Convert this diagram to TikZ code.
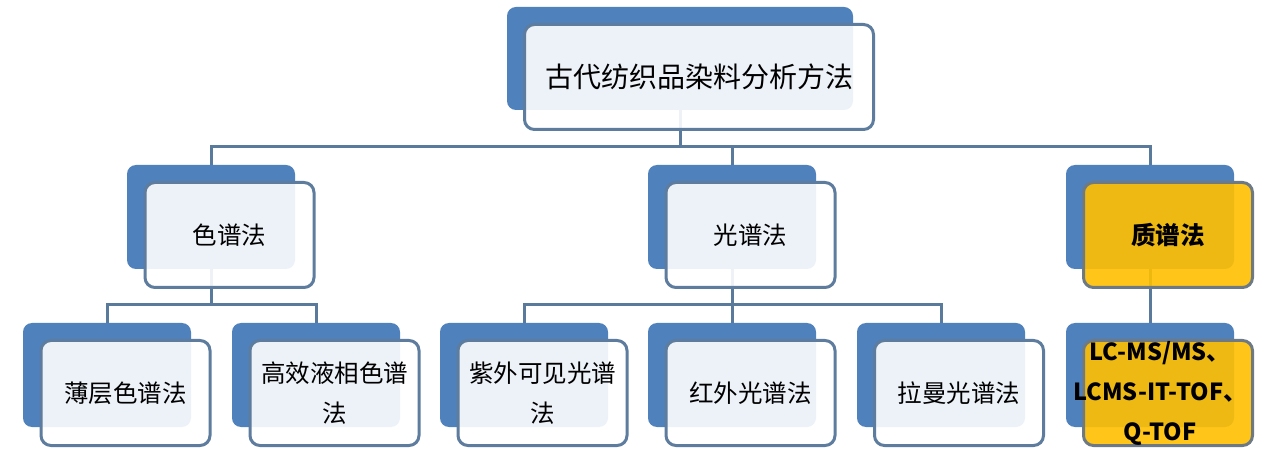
\documentclass[tikz,border=0pt]{standalone}
\usepackage{fontspec}
\setmainfont{Noto Sans CJK SC}
\definecolor{backblue}{HTML}{4F81BD}
\definecolor{bordblue}{HTML}{5D7C9E}
\definecolor{connblue}{HTML}{5A7A9C}
\definecolor{gold}{HTML}{FFC000}
\definecolor{goldbord}{HTML}{6D7A85}
\tikzset{
  backbox/.style={fill=backblue, rounded corners=9pt, minimum width=168pt, minimum height=104pt, inner sep=0pt, outer sep=0pt},
  frontbox/.style={draw=bordblue, line width=3pt, fill=white, fill opacity=0.9, text opacity=1, rounded corners=10pt, minimum width=169pt, minimum height=105pt, inner sep=0pt, outer sep=0pt, align=center, font=\fontsize{24.5pt}{40pt}\selectfont},
  goldbox/.style={frontbox, draw=goldbord, fill=gold},
  conn/.style={draw=connblue, line width=3pt},
  lbl/.style={align=center, font=\fontsize{23.5pt}{40pt}\selectfont\bfseries, inner sep=0pt}
}
\begin{document}
\begin{tikzpicture}[x=1pt,y=-1pt]
\useasboundingbox[fill=white] (0,0) rectangle (1280,454);
\coordinate (bus1) at (0,147);
\coordinate (bus2) at (0,305);
% back box centers
\path (680,58.5) coordinate (pT)
      (211,217) coordinate (pA) (732,217) coordinate (pB) (1150,217) coordinate (pC)
      (107,375) coordinate (pA1) (316,375) coordinate (pA2)
      (524,375) coordinate (pB1) (732,375) coordinate (pB2) (941,375) coordinate (pB3)
      (1150,375) coordinate (pC1);
% connectors
\draw[conn] (pT) -- (pT |- bus1);
\draw[conn] (pA) |- (pT |- bus1);
\draw[conn] (pB) -- (pB |- bus1);
\draw[conn] (pC) |- (pT |- bus1);
\draw[conn] (pA1) |- (pA |- bus2);
\draw[conn] (pA2) |- (pA |- bus2);
\draw[conn] (pA) -- (pA |- bus2);
\draw[conn] (pB1) |- (pB |- bus2);
\draw[conn] (pB3) |- (pB |- bus2);
\draw[conn] (pB) -- (pB2);
\draw[conn] (pC) -- (pC1);
% back boxes
\node[backbox, minimum width=346pt, minimum height=103pt] (tB) at (pT) {};
\node[backbox] (aB) at (pA) {};
\node[backbox] (bB) at (pB) {};
\node[backbox] (cB) at (pC) {};
\node[backbox] (a1B) at (pA1) {};
\node[backbox] (a2B) at (pA2) {};
\node[backbox] (b1B) at (pB1) {};
\node[backbox] (b2B) at (pB2) {};
\node[backbox] (b3B) at (pB3) {};
\node[backbox] (c1B) at (pC1) {};
% front boxes
\node[frontbox, minimum width=349pt, font=\fontsize{28pt}{40pt}\selectfont] (tF) at (699,77) {\raisebox{-2pt}{古代纺织品染料分析方法}};
\node[frontbox] (aF) at (229.5,235) {色谱法};
\node[frontbox] (bF) at (750.5,235) {光谱法};
\node[goldbox, font=\fontsize{24.5pt}{40pt}\selectfont\bfseries] (cF) at (1168,235) {质谱法};
\node[frontbox] (a1F) at (125.5,393) {薄层色谱法};
\node[frontbox] (a2F) at (334.5,393) {高效液相色谱\\法};
\node[frontbox] (b1F) at (542.5,393) {紫外可见光谱\\法};
\node[frontbox] (b2F) at (750.5,393) {红外光谱法};
\node[frontbox] (b3F) at (959,393) {拉曼光谱法};
\node[goldbox] (c1F) at (1168,393) {};
\node[lbl] (c1T) at (1160,393) {LC-MS/MS、\\LCMS-IT-TOF、\\Q-TOF};
\end{tikzpicture}
\end{document}
